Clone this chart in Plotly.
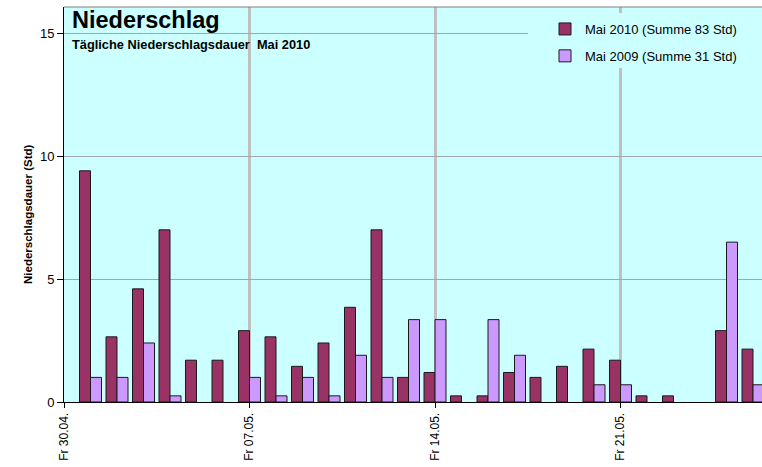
import plotly.graph_objects as go

# Days since Fr 30.04. (0 = 30.04., 1 = 01.05., ...)
days = list(range(0, 27))
tick_vals = [0, 7, 14, 21]
tick_text = ["Fr 30.04.", "Fr 07.05.", "Fr 14.05.", "Fr 21.05."]

mai_2010 = [None, 9.4, 2.65, 4.6, 7.0, 1.7, 1.7, 2.9, 2.65, 1.45, 2.4, 3.85, 7.0, 1.0,
            1.2, 0.25, 0.25, 1.2, 1.0, 1.45, 2.15, 1.7, 0.25, 0.25, None, 2.9, 2.15]
mai_2009 = [None, 1.0, 1.0, 2.4, 0.25, None, None, 1.0, 0.25, 1.0, 0.25, 1.9, 1.0, 3.35,
            3.35, None, 3.35, 1.9, None, None, 0.7, 0.7, None, None, None, 6.5, 0.7]

name_2010 = "Mai 2010 (Summe 83 Std)"
name_2009 = "Mai 2009 (Summe 31 Std)"

FONT = "Liberation Sans, Arial, sans-serif"

fig = go.Figure()
fig.add_trace(go.Bar(x=days, y=mai_2010, name=name_2010, legendgroup="a",
                     marker=dict(color="#993366", line=dict(color="#1a1a1a", width=1))))
fig.add_trace(go.Bar(x=days, y=mai_2009, name=name_2009, legendgroup="b",
                     marker=dict(color="#cc99ff", line=dict(color="#1a1a1a", width=1))))

L, T, B, W, H = 64, 7, 65, 762, 467
pw = W - L
ph = H - T - B

def px_x(x):
    return (x - L) / pw

def px_y(y):
    return (H - B - y) / ph

fig.update_layout(
    width=W, height=H,
    margin=dict(l=L, r=0, t=T, b=B, pad=0, autoexpand=False),
    paper_bgcolor="white",
    plot_bgcolor="#ccffff",
    barmode="group",
    bargap=0.17,
    bargroupgap=0,
    font=dict(family=FONT, color="black"),
    showlegend=True,
    legend=dict(x=px_x(545), y=px_y(14), xanchor="left", yanchor="top",
                bgcolor="rgba(0,0,0,0)", font=dict(size=13, family=FONT),
                traceorder="grouped", tracegroupgap=7),
    xaxis=dict(range=[0, (W - L) / 26.5], tickmode="array", tickvals=tick_vals,
               ticktext=tick_text, tickangle=-90, ticks="outside", ticklen=5,
               tickcolor="black", showline=True, linecolor="black", linewidth=1,
               showgrid=True, gridcolor="#c0c0c0", gridwidth=3, zeroline=False,
               tickfont=dict(size=12, family=FONT)),
    yaxis=dict(range=[0, 16.06], tickvals=[0, 5, 10, 15], ticks="outside", ticklen=6,
               tickcolor="black", showline=True, linecolor="black", linewidth=1,
               showgrid=True, gridcolor="#a0a8a8", gridwidth=1, zeroline=False,
               tickfont=dict(size=13, family=FONT)),
)

# top border of plot area
fig.add_shape(type="line", xref="paper", yref="paper", x0=0, x1=1, y0=1, y1=1,
              line=dict(color="#808080", width=1))
# legend box background (covers gridlines)
fig.add_shape(type="rect", xref="paper", yref="paper", x0=px_x(528), x1=1.01,
              y0=px_y(68), y1=px_y(13), fillcolor="#ccffff", line=dict(width=0), layer="above")

fig.add_annotation(text="<b>Niederschlag</b>", xref="paper", yref="paper",
                   x=px_x(70), y=px_y(20), xanchor="left", yanchor="middle",
                   showarrow=False, font=dict(size=23.5, family=FONT))
fig.add_annotation(text="<b>Tägliche Niederschlagsdauer  Mai 2010</b>", xref="paper", yref="paper",
                   x=px_x(70), y=px_y(44), xanchor="left", yanchor="middle",
                   showarrow=False, font=dict(size=12.8, family=FONT))
fig.add_annotation(text="<b>Niederschlagsdauer (Std)</b>", xref="paper", yref="paper",
                   x=px_x(28), y=px_y(215), xanchor="center", yanchor="middle", textangle=-90,
                   showarrow=False, font=dict(size=11.5, family=FONT))

fig.write_html("out.html", config={"displayModeBar": False},
               post_script="document.body.style.margin='0px';")
